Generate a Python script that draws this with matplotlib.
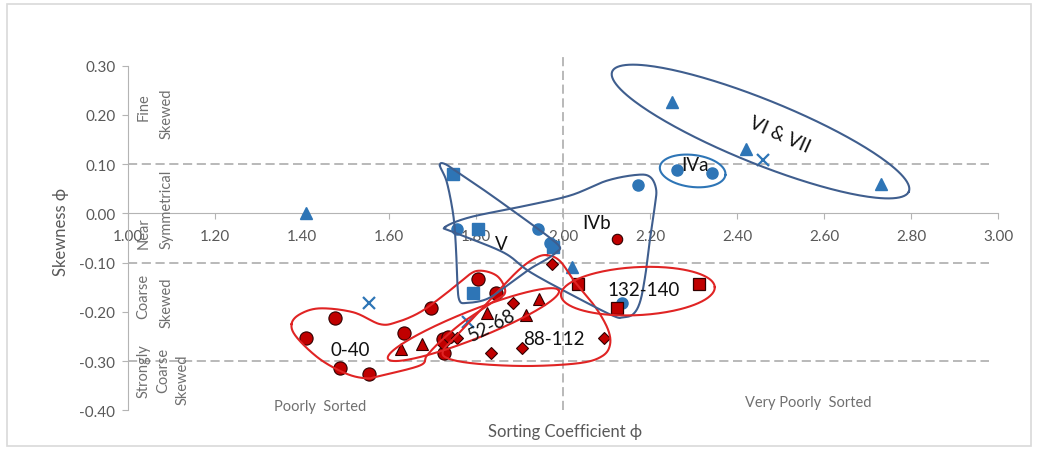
import numpy as np
import matplotlib.pyplot as plt

plt.rcParams['font.family'] = ['Lato', 'DejaVu Sans']

# ---- data (sorting coefficient, skewness) ----
x_ticks = [1.0, 1.2, 1.4, 1.6, 1.8, 2.0, 2.2, 2.4, 2.6, 2.8, 3.0]
x_labels = ['1.00', '1.20', '1.40', '1.60', '1.80', '2.00', '2.20', '2.40', '2.60', '2.80', '3.00']
y_ticks = [-0.4, -0.3, -0.2, -0.1, 0.0, 0.1, 0.2, 0.3]
y_labels = ['-0.40', '-0.30', '-0.20', '-0.10', '0.00', '0.10', '0.20', '0.30']

blue_tri_x = [1.41, 2.25, 2.42, 2.73, 2.02]
blue_tri_y = [0.00, 0.225, 0.13, 0.06, -0.11]
blue_circ_x = [1.756, 1.943, 1.97, 2.172, 2.263, 2.343, 2.135]
blue_circ_y = [-0.032, -0.032, -0.06, 0.058, 0.088, 0.081, -0.182]
blue_sq_x = [1.746, 1.805, 1.976, 1.794]
blue_sq_y = [0.08, -0.032, -0.069, -0.162]
blue_x_x = [1.555, 1.782, 2.46]
blue_x_y = [-0.182, -0.221, 0.108]

red_circ_x = [1.409, 1.476, 1.487, 1.555, 1.635, 1.696, 1.804, 1.845, 1.725, 1.736, 1.726]
red_circ_y = [-0.254, -0.213, -0.315, -0.326, -0.243, -0.193, -0.133, -0.162, -0.255, -0.252, -0.284]
red_ivb_x = [2.125]
red_ivb_y = [-0.052]
red_tri_x = [1.627, 1.675, 1.825, 1.914, 1.944]
red_tri_y = [-0.276, -0.265, -0.202, -0.206, -0.174]
red_dia_x = [1.723, 1.757, 1.834, 1.884, 1.905, 1.974, 2.095]
red_dia_y = [-0.265, -0.254, -0.284, -0.183, -0.274, -0.103, -0.254]
red_sq_x = [2.035, 2.123, 2.313]
red_sq_y = [-0.144, -0.193, -0.144]

# hand drawn group outlines (data coords)
outline_040_x = [1.376, 1.395, 1.441, 1.518, 1.579, 1.618, 1.671, 1.725, 1.763, 1.802, 1.848,
                 1.867, 1.839, 1.770, 1.717, 1.687, 1.671, 1.579, 1.549, 1.503, 1.441, 1.388]
outline_040_y = [-0.225, -0.205, -0.193, -0.201, -0.225, -0.221, -0.201, -0.167, -0.140, -0.117, -0.127,
                 -0.160, -0.180, -0.221, -0.261, -0.289, -0.309, -0.330, -0.335, -0.326, -0.296, -0.252]
outline_88_x = [1.963, 1.993, 2.028, 2.074, 2.103, 2.108, 2.090, 2.039, 1.924, 1.809, 1.740,
                1.724, 1.759, 1.809, 1.855, 1.901, 1.936]
outline_88_y = [-0.085, -0.097, -0.140, -0.190, -0.235, -0.267, -0.290, -0.304, -0.310, -0.306, -0.296,
                -0.280, -0.245, -0.198, -0.154, -0.113, -0.091]
outline_v_x = [1.717, 1.733, 1.748, 1.754, 1.757, 1.762, 1.779, 1.825, 1.871, 1.924, 1.963,
               1.985, 1.993, 1.973, 1.943, 1.901, 1.825, 1.763, 1.729]
outline_v_y = [0.097, 0.063, -0.005, -0.072, -0.140, -0.177, -0.182, -0.174, -0.147, -0.113, -0.093,
               -0.079, -0.069, -0.052, -0.032, -0.005, 0.043, 0.080, 0.100]
outline_ivb_x = [1.729, 1.786, 1.901, 2.016, 2.100, 2.169, 2.200, 2.214, 2.211, 2.200, 2.189,
                 2.177, 2.161, 2.138, 2.115, 2.023, 1.924, 1.862, 1.747]
outline_ivb_y = [-0.028, -0.008, 0.013, 0.036, 0.066, 0.078, 0.074, 0.049, 0.015, -0.052, -0.127,
                 -0.180, -0.205, -0.211, -0.208, -0.167, -0.119, -0.079, -0.038]

BLUE = '#2E75B6'
NAVY = '#3F5E8E'
RED = '#C00000'
LRED = '#E02424'
GRAY = '#595959'


def closed_curve(xs, ys, n=24):
    P = np.column_stack([xs, ys])
    N = len(P)
    t = np.linspace(0, 1, n, endpoint=False)[:, None]
    segs = []
    for i in range(N):
        p0, p1, p2, p3 = P[i - 1], P[i], P[(i + 1) % N], P[(i + 2) % N]
        segs.append(0.5 * (2 * p1 + (-p0 + p2) * t + (2 * p0 - 5 * p1 + 4 * p2 - p3) * t ** 2
                           + (-p0 + 3 * p1 - 3 * p2 + p3) * t ** 3))
    segs.append(P[:1])
    out = np.vstack(segs)
    return out[:, 0], out[:, 1]


def ellipse(ax, cx, cy, a, b, ang):
    # a, b in pixels, angle in screen degrees
    c = ax.transData.transform((cx, cy))
    t = np.linspace(0, 2 * np.pi, 240)
    th = np.radians(ang)
    x = a * np.cos(t) * np.cos(th) - b * np.sin(t) * np.sin(th)
    y = a * np.cos(t) * np.sin(th) + b * np.sin(t) * np.cos(th)
    d = ax.transData.inverted().transform(np.column_stack([x + c[0], y + c[1]]))
    return d[:, 0], d[:, 1]


fig = plt.figure(figsize=(10.38, 4.52), dpi=100)
ax = fig.add_axes([0.1233, 0.0900, 0.8382, 0.7628])
ax.set_xlim(1.0, 3.0)
ax.set_ylim(-0.4, 0.3)

for s in ['top', 'right']:
    ax.spines[s].set_visible(False)
ax.spines['bottom'].set_position(('data', 0))
ax.spines['bottom'].set_color('#B4B4B4')
ax.spines['left'].set_color('#B4B4B4')
ax.set_xticks(x_ticks)
ax.set_xticklabels(x_labels)
ax.set_yticks(y_ticks)
ax.set_yticklabels(y_labels)
ax.tick_params(axis='x', direction='out', length=4, color='#B4B4B4', labelcolor=GRAY, labelsize=11, pad=7)
ax.tick_params(axis='y', direction='out', length=4, color='#B4B4B4', labelcolor=GRAY, labelsize=11, pad=5)

dash = (0, (6, 3))
for yv in [0.1, -0.1, -0.3]:
    ax.plot([1.0, 2.98], [yv, yv], ls=dash, color='#A6A6A6', lw=1.1, zorder=1)
ax.plot([2.0, 2.0], [-0.4, 0.325], ls=dash, color='#A6A6A6', lw=1.1, zorder=1, clip_on=False)

# markers
ax.plot(blue_tri_x, blue_tri_y, '^', ms=8.5, color=BLUE, ls='none', zorder=3)
ax.plot(blue_circ_x, blue_circ_y, 'o', ms=8, color=BLUE, ls='none', zorder=3)
ax.plot(blue_sq_x, blue_sq_y, 's', ms=8, color=BLUE, ls='none', zorder=3)
ax.plot(blue_x_x, blue_x_y, 'x', ms=8, mew=1.6, color=BLUE, ls='none', zorder=3)
ax.plot(red_circ_x, red_circ_y, 'o', ms=9.5, mfc=RED, mec='#300000', mew=0.8, ls='none', zorder=4)
ax.plot(red_ivb_x, red_ivb_y, 'o', ms=7.5, mfc=RED, mec='#300000', mew=0.8, ls='none', zorder=4)
ax.plot(red_tri_x, red_tri_y, '^', ms=9, mfc=RED, mec='#300000', mew=0.8, ls='none', zorder=4)
ax.plot(red_dia_x, red_dia_y, 'D', ms=6.5, mfc=RED, mec='#300000', mew=0.8, ls='none', zorder=4)
ax.plot(red_sq_x, red_sq_y, 's', ms=9, mfc=RED, mec='#300000', mew=0.9, ls='none', zorder=4)

# outlines
for xs, ys, col in [(outline_040_x, outline_040_y, LRED), (outline_88_x, outline_88_y, LRED),
                    (outline_v_x, outline_v_y, NAVY), (outline_ivb_x, outline_ivb_y, NAVY)]:
    cx, cy = closed_curve(xs, ys)
    ax.plot(cx, cy, color=col, lw=1.5, zorder=5, clip_on=False)

for cx, cy, a, b, ang, col in [(2.454, 0.166, 160, 32, -22, NAVY),
                               (2.298, 0.086, 33, 16, -7, BLUE),
                               (2.172, -0.158, 77, 24, 3, LRED),
                               (1.794, -0.226, 92, 14, 21.7, LRED)]:
    ex, ey = ellipse(ax, cx, cy, a, b, ang)
    ax.plot(ex, ey, color=col, lw=1.5, zorder=5, clip_on=False)

# group labels
lab = dict(fontsize=13.5, color='#111111', ha='center', va='center', zorder=6)
ax.text(1.510, -0.276, '0-40', **lab)
ax.text(1.836, -0.227, '52-68', rotation=27, **lab)
ax.text(1.978, -0.254, '88-112', **lab)
ax.text(2.185, -0.154, '132-140', **lab)
ax.text(1.859, -0.062, 'V', **lab)
ax.text(2.077, -0.018, 'IVb', **lab)
ax.text(2.303, 0.100, 'IVa', **lab)
ax.text(2.499, 0.161, 'VI & VII', rotation=-24, **lab)

# class labels
cls = dict(fontsize=10.5, color='#707070', ha='center', va='center', rotation=90)
ax.text(1.035, 0.217, 'Fine', **cls)
ax.text(1.089, 0.204, 'Skewed', **cls)
ax.text(1.035, -0.038, 'Near', **cls)
ax.text(1.089, 0.011, 'Symmetrical', **cls)
ax.text(1.035, -0.167, 'Coarse', **cls)
ax.text(1.089, -0.179, 'Skewed', **cls)
ax.text(1.035, -0.318, 'Strongly', **cls)
ax.text(1.080, -0.316, 'Coarse', **cls)
ax.text(1.126, -0.336, 'Skewed', **cls)
ax.text(1.441, -0.391, 'Poorly  Sorted', fontsize=10.5, color='#707070', ha='center', va='center')
ax.text(2.563, -0.383, 'Very Poorly  Sorted', fontsize=10.5, color='#707070', ha='center', va='center')

fig.text(565 / 1038, 1 - 432 / 452, 'Sorting Coefficient \u03d5', fontsize=12, color=GRAY,
         ha='center', va='center')
fig.text(61 / 1038, 1 - 232 / 452, 'Skewness \u03d5', fontsize=12, color=GRAY,
         ha='center', va='center', rotation=90)

fig.add_artist(plt.Rectangle((7 / 1038, 5 / 452), 1024 / 1038, 442 / 452, transform=fig.transFigure,
                             fill=False, ec='#D9D9D9', lw=1.2))

fig.savefig('out.png', dpi=100)
